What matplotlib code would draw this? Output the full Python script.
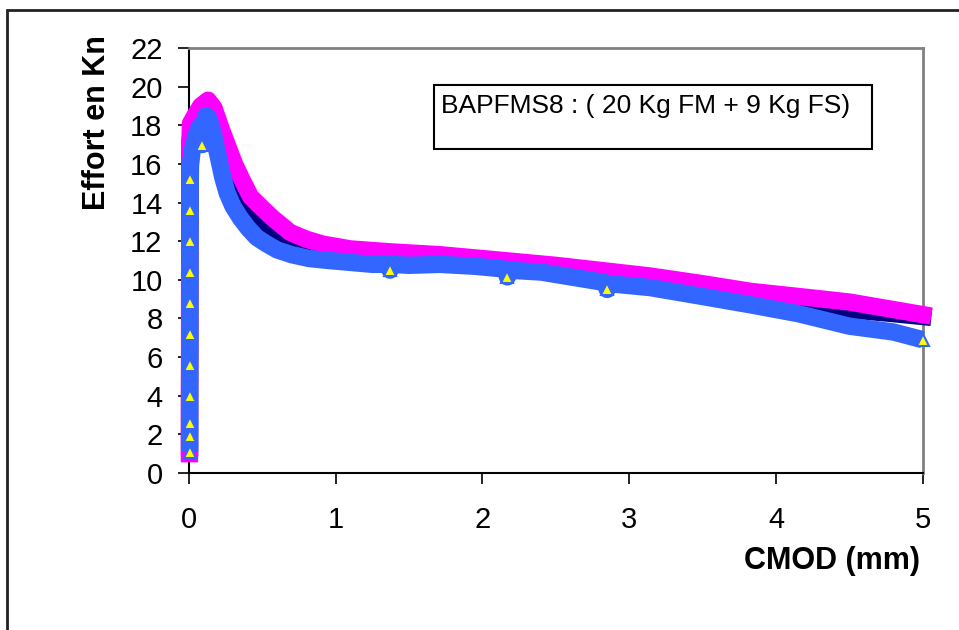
import matplotlib
matplotlib.use('agg')
import matplotlib.pyplot as plt
from matplotlib.patches import Rectangle

plt.rcParams['font.family'] = ['Liberation Sans', 'DejaVu Sans']

# series 1 - navy diamonds
navy_x = [0.004, 0.004, 0.005, 0.005, 0.006, 0.006, 0.007, 0.008,
          0.03, 0.06, 0.09, 0.12, 0.15, 0.18, 0.21, 0.25, 0.30, 0.35, 0.40,
          0.46, 0.55, 0.69, 0.87, 1.0, 1.3, 1.6, 2.0, 2.5, 3.0, 3.5, 3.83,
          4.2, 4.5, 4.8, 5.0]
navy_y = [1.3, 4.0, 7.0, 10.0, 13.0, 15.0, 16.5, 17.3,
          17.8, 18.3, 18.7, 18.9, 18.6, 17.8, 16.9, 16.0, 15.1, 14.3, 13.7,
          13.0, 12.4, 11.9, 11.5, 11.3, 11.1, 11.0, 10.9, 10.5, 10.0, 9.5, 9.1,
          8.8, 8.45, 8.25, 8.1]

# series 2 - magenta squares
mag_x = [0.003, 0.003, 0.004, 0.004, 0.005, 0.005, 0.006,
         0.01, 0.04, 0.08, 0.13, 0.17, 0.22, 0.26, 0.31, 0.36, 0.42, 0.50,
         0.57, 0.69, 0.80, 0.91, 1.1, 1.37, 1.71, 2.0, 2.5, 3.14, 3.5, 3.83,
         4.2, 4.5, 5.0]
mag_y = [1.0, 3.0, 6.0, 9.0, 12.0, 15.0, 17.0,
         18.1, 18.5, 19.0, 19.3, 18.9, 17.8, 17.0, 16.0, 15.2, 14.3, 13.7,
         13.2, 12.45, 12.1, 11.85, 11.6, 11.45, 11.3, 11.1, 10.75, 10.2, 9.8, 9.4,
         9.1, 8.85, 8.2]

# series 3 - blue / yellow triangles
blue_x = [0.004, 0.004, 0.005, 0.005, 0.005, 0.005, 0.005, 0.006, 0.006, 0.006,
          0.006, 0.007, 0.007, 0.007, 0.007, 0.008, 0.008, 0.008, 0.009, 0.010,
          0.02, 0.035, 0.05, 0.07, 0.085, 0.09, 0.095, 0.115, 0.13, 0.15, 0.17,
          0.19, 0.21, 0.23, 0.26, 0.30, 0.35, 0.40, 0.46, 0.52, 0.60, 0.70,
          0.82, 0.95, 1.10, 1.25, 1.36, 1.37, 1.38, 1.50, 1.71, 1.95, 2.16,
          2.17, 2.18, 2.40, 2.60, 2.84, 2.85, 2.86, 3.14, 3.45, 3.83, 4.15,
          4.50, 4.80, 5.00]
blue_y = [1.1, 1.9, 2.6, 3.3, 4.0, 4.8, 5.6, 6.4, 7.2, 8.0,
          8.8, 9.6, 10.4, 11.2, 12.0, 12.8, 13.6, 14.4, 15.2, 15.9,
          16.6, 17.1, 17.5, 17.9, 17.8, 17.0, 17.9, 18.5, 18.4, 18.0, 17.4,
          16.7, 16.0, 15.3, 14.5, 13.8, 13.2, 12.7, 12.2, 11.9, 11.55, 11.3,
          11.1, 11.0, 10.9, 10.8, 10.8, 10.5, 10.8, 10.75, 10.8, 10.7, 10.55,
          10.15, 10.5, 10.4, 10.15, 9.85, 9.5, 9.8, 9.6, 9.2, 8.7, 8.25,
          7.6, 7.3, 6.9]
blue_marks = [0, 1, 2, 4, 6, 8, 10, 12, 14, 16, 18, 25, 47, 53, 58, 66]

yticks = list(range(0, 23, 2))
xticks = [0, 1, 2, 3, 4, 5]
legend_text = 'BAPFMS8 : ( 20 Kg FM + 9 Kg FS)'

W, H = 959, 630
fig = plt.figure(figsize=(W / 100, H / 100), dpi=100)
ax = fig.add_axes([189 / W, (H - 473) / H, 733.7 / W, 425 / H])

lw = 12.5
ax.plot(navy_x, navy_y, '-', color='#000080', lw=lw, clip_on=False, zorder=3,
        solid_joinstyle='round', solid_capstyle='projecting')
ax.plot(mag_x, mag_y, '-', color='#FF00FF', lw=lw, clip_on=False, zorder=4,
        solid_joinstyle='round', solid_capstyle='projecting')
ax.plot(blue_x, blue_y, '-', color='#3366FF', lw=lw, clip_on=False, zorder=5,
        solid_joinstyle='round', solid_capstyle='butt')
ax.plot(blue_x, blue_y, '^', markevery=blue_marks, ms=9, mfc='#FFFF00',
        mec='#3366FF', mew=1.5, ls='none', clip_on=False, zorder=6)

ax.set_xlim(0, 5)
ax.set_ylim(0, 22)
ax.set_xticks(xticks)
ax.set_yticks(yticks)
ax.tick_params(axis='both', direction='out', length=8, width=1.2, labelsize=21)
ax.tick_params(axis='y', pad=11)
ax.tick_params(axis='x', pad=16)

for s in ['left', 'bottom']:
    ax.spines[s].set_color('black')
    ax.spines[s].set_linewidth(1.5)
for s in ['top', 'right']:
    ax.spines[s].set_color('#808080')
    ax.spines[s].set_linewidth(2)

fig.text(97 / W, 1 - 123 / H, 'Effort en Kn', rotation=90, fontsize=22,
         fontweight='bold', ha='center', va='center')
fig.text(920 / W, 1 - 561 / H, 'CMOD (mm)', fontsize=22, fontweight='bold',
         ha='right', va='center')

# legend box
fig.patches.append(Rectangle((434 / W, 1 - 149 / H), 438 / W, 64 / H,
                             transform=fig.transFigure, fill=False,
                             edgecolor='black', lw=1.5))
fig.text(441 / W, 1 - 106 / H, legend_text, fontsize=19, ha='left', va='center')

# outer frame
fig.patches.append(Rectangle((7 / W, -0.1), 1.2, 1 - 10 / H + 0.1,
                             transform=fig.transFigure, fill=False,
                             edgecolor='#222222', lw=2))

fig.savefig('out.png', dpi=100)
